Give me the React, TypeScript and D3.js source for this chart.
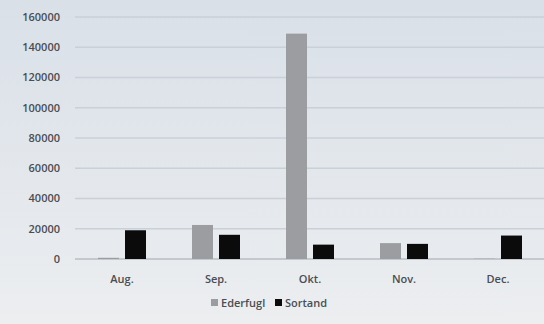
import React from "react";
import * as d3 from "d3";

const months = ["Aug.", "Sep.", "Okt.", "Nov.", "Dec."];
const ederfugl = [800, 22500, 149000, 10500, 200];
const sortand = [19000, 16000, 9500, 10000, 15500];
const yTicks = [0, 20000, 40000, 60000, 80000, 100000, 120000, 140000, 160000];
const seriesNames = ["Ederfugl", "Sortand"];
const seriesColors = ["#9b9da0", "#0b0b0c"];

export default function App() {
  const W = 544, H = 324;
  const left = 75, right = 545, top = 17, bottom = 259;
  const x = d3.scaleBand<string>().domain(months).range([left, right]);
  const y = d3.scaleLinear().domain([0, 160000]).range([bottom, top]);
  const barW = 21, gap = 6;
  const series = [ederfugl, sortand];
  return (
    <svg width={W} height={H} style={{ position: "absolute", left: 0, top: 0 }} fontFamily="'Open Sans', 'Noto Sans', sans-serif">
      <defs>
        <linearGradient id="bg" x1="0" y1="0" x2="0" y2="1">
          <stop offset="0" stopColor="#d9e0e8" />
          <stop offset="1" stopColor="#eceef0" />
        </linearGradient>
      </defs>
      <rect x={0} y={0} width={W} height={H} fill="url(#bg)" />
      {yTicks.map((t) => (
        <g key={t}>
          <line x1={left} x2={right} y1={y(t)} y2={y(t)} stroke={t === 0 ? "#b9bec4" : "#c9d0d8"} strokeWidth={1.5} />
          <text x={60} y={y(t)} dy="0.35em" textAnchor="end" fontSize={11} fontWeight={600} fill="#4a4d52">{t}</text>
        </g>
      ))}
      {months.map((m, i) => {
        const c = (x(m) as number) + x.bandwidth() / 2;
        return (
          <g key={m}>
            {series.map((s, j) => {
              const bx = c - gap / 2 - barW + j * (barW + gap);
              return (
                <rect key={j} x={bx} y={y(s[i])} width={barW} height={bottom - y(s[i])} fill={seriesColors[j]} />
              );
            })}
            <text x={c} y={283} textAnchor="middle" fontSize={11} fontWeight={600} fill="#4a4d52">{m}</text>
          </g>
        );
      })}
      <g transform="translate(0,303)">
        <rect x={211} y={-4} width={7} height={7} fill={seriesColors[0]} />
        <text x={221} y={0} dy="0.35em" fontSize={11} fontWeight={600} fill="#4a4d52">{seriesNames[0]}</text>
        <rect x={275} y={-4} width={7} height={7} fill={seriesColors[1]} />
        <text x={285} y={0} dy="0.35em" fontSize={11} fontWeight={600} fill="#4a4d52">{seriesNames[1]}</text>
      </g>
    </svg>
  );
}
